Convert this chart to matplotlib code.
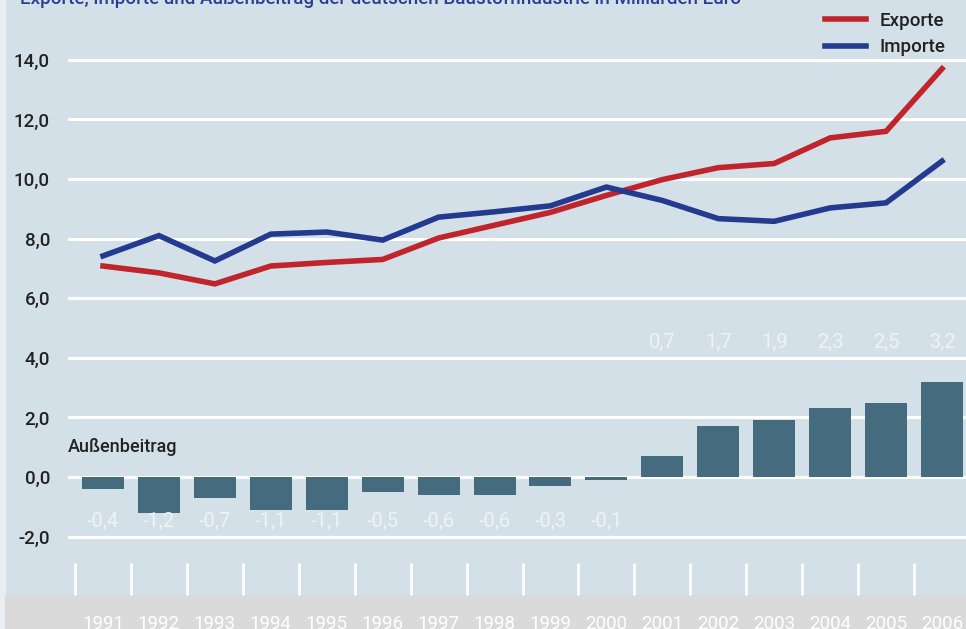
import matplotlib
matplotlib.use("Agg")
import matplotlib.pyplot as plt
from matplotlib.patches import Rectangle

plt.rcParams['font.family'] = ['Roboto', 'DejaVu Sans']

years = list(range(1991, 2007))
exporte = [7.08, 6.85, 6.48, 7.08, 7.2, 7.3, 8.02, 8.45, 8.88, 9.45, 9.98, 10.38, 10.52, 11.38, 11.6, 13.7]
importe = [7.42, 8.1, 7.25, 8.15, 8.22, 7.95, 8.72, 8.9, 9.1, 9.73, 9.28, 8.67, 8.58, 9.03, 9.2, 10.6]
aussenbeitrag = [-0.4, -1.2, -0.7, -1.1, -1.1, -0.5, -0.6, -0.6, -0.3, -0.1, 0.7, 1.7, 1.9, 2.3, 2.5, 3.2]
yticks = [-2, 0, 2, 4, 6, 8, 10, 12, 14]
title = "Exporte, Importe und Außenbeitrag der deutschen Baustoffindustrie in Milliarden Euro"

W, H = 966, 629
fig = plt.figure(figsize=(W / 100, H / 100), dpi=100)
fig.patch.set_facecolor('#d4e0e8')

# left light strip and grey bottom band
fig.add_artist(Rectangle((0, 0), 5 / W, 1, transform=fig.transFigure, color='#e9eff3', zorder=0))
fig.add_artist(Rectangle((5 / W, 0), 1, 34 / H, transform=fig.transFigure, color='#dadada', zorder=0))

ax = fig.add_axes([68 / W, 0, (W - 68) / W, 1])
ax.set_facecolor('none')
for s in ax.spines.values():
    s.set_visible(False)

x0 = 1991 - 35 / 55.93
x1 = 2006 + 24 / 55.93
ax.set_xlim(x0, x1)
ax.set_ylim(-(629 - 477) / 29.8, 477 / 29.8)

for t in yticks:
    ax.axhline(t, color='white', lw=2.2, zorder=1)

ax.bar(years, aussenbeitrag, width=0.75, color='#456b7e', zorder=2)
ax.plot(years, exporte, color='#c0252b', lw=4, zorder=3, label='Exporte', solid_joinstyle='miter')
ax.plot(years, importe, color='#243a8e', lw=4, zorder=3, label='Importe', solid_joinstyle='miter')

for yr, v in zip(years, aussenbeitrag):
    ypos = -1.48 if v < 0 else 4.5
    ax.text(yr, ypos, f"{v:.1f}".replace('.', ','), ha='center', va='center',
            color='#eef3f6', fontsize=14.5, zorder=4)

# year separator ticks
ybot = -(595 - 477) / 29.8
ytop = -(563 - 477) / 29.8
for yr in years:
    ax.plot([yr - 0.5, yr - 0.5], [ytop, ybot], color='white', lw=2, zorder=1, solid_capstyle='butt')

for yr in years:
    ax.text(yr, -(624 - 477) / 29.8, str(yr), ha='center', va='center', color='white', fontsize=13.5, zorder=4)

ax.set_yticks(yticks)
ax.set_yticklabels([f"{t:.1f}".replace('.', ',') for t in yticks], fontsize=13.5, color='#222222',
                   fontweight='medium')
ax.tick_params(axis='y', length=0, pad=13)
ax.set_xticks([])

ax.text(1991 - 35 / 55.93, 1.0, "Außenbeitrag", fontsize=13, color='#222222', ha='left', va='center',
        fontweight='medium', zorder=4)

fig.text(20 / W, 1 - 4 / H, title, color='#2b3e96', fontsize=13.5, ha='left', va='baseline', fontweight='medium')

leg = ax.legend(loc='upper right', bbox_to_anchor=(962 / W, 1 + 5 / H), bbox_transform=fig.transFigure,
                frameon=False, handlelength=2.2, handletextpad=0.7, labelspacing=0.45,
                prop={'size': 13.5, 'weight': 'medium'})
for t in leg.get_texts():
    t.set_color('#222222')

fig.savefig('out.png', dpi=100, facecolor=fig.get_facecolor())
